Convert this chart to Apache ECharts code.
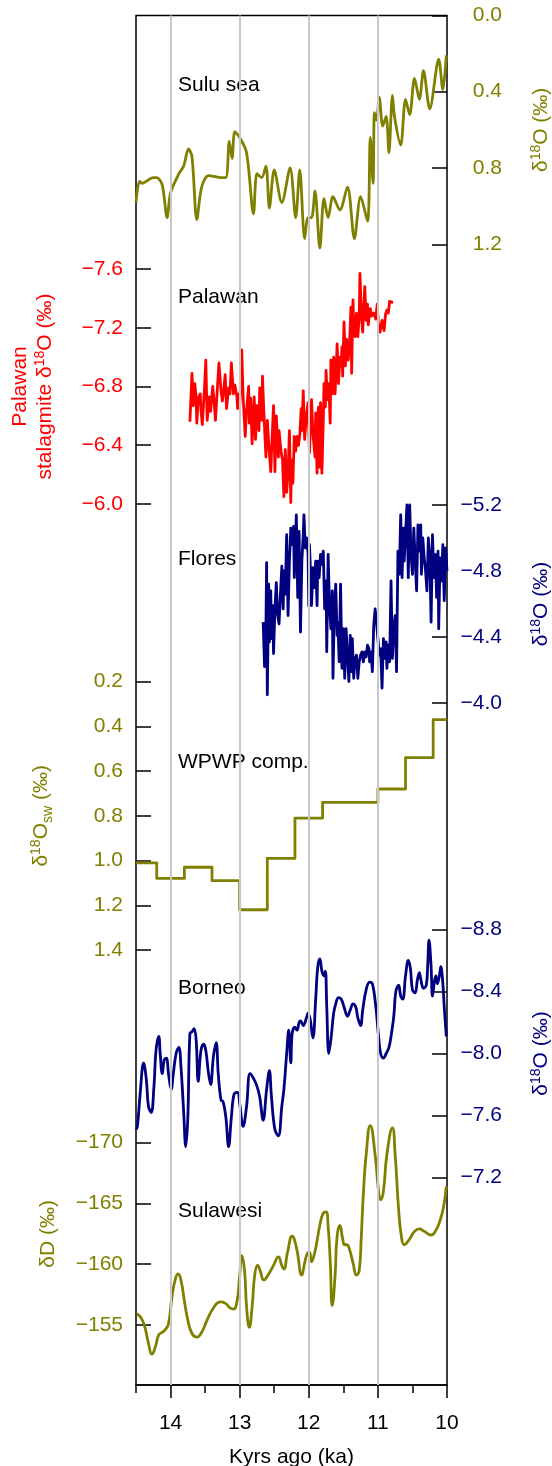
<!DOCTYPE html>
<html>
<head>
<meta charset="utf-8">
<script src="https://cdn.jsdelivr.net/npm/echarts@6.0.0/dist/echarts.min.js"></script>
<style>
  html, body { margin: 0; padding: 0; background: #fff; }
  #main { width: 552px; height: 1466px; }
</style>
</head>
<body>
<div id="main"></div>
<script>
const OLIVE = '#808000';
const RED = '#ff0000';
const NAVY = '#000080';
const FONT = '"Liberation Sans", Arial, Helvetica, sans-serif';

// x axis (kyr ago)
const ageMajor = [10, 11, 12, 13, 14];
const ageMinor = [10.5, 11.5, 12.5, 13.5, 14.5];
const gridAges = [11, 12, 13, 14];

const panelLabels = ['Sulu sea', 'Palawan', 'Flores', 'WPWP comp.', 'Borneo', 'Sulawesi'];

// y tick values per panel
const suluTicks = [0, 0.4, 0.8, 1.2];
const palawanTicks = [-7.6, -7.2, -6.8, -6.4, -6.0];
const floresTicks = [-5.2, -4.8, -4.4, -4.0];
const wpwpTicks = [0.2, 0.4, 0.6, 0.8, 1.0, 1.2, 1.4];
const borneoTicks = [-8.8, -8.4, -8.0, -7.6, -7.2];
const sulawesiTicks = [-170, -165, -160, -155];

// Sulu sea d18O
const suluAge = [14.50,14.45,14.41,14.25,14.20,14.12,14.05,14.00,13.88,13.81,13.74,13.69,13.62,13.55,13.45,13.28,13.20,13.15,13.11,13.07,13.00,12.90,12.80,12.75,12.68,12.62,12.57,12.50,12.39,12.27,12.19,12.13,12.06,12.01,11.96,11.91,11.84,11.78,11.72,11.65,11.55,11.44,11.34,11.25,11.15,11.11,11.07,11.05,11.02,10.98,10.93,10.88,10.84,10.79,10.76,10.67,10.60,10.54,10.47,10.40,10.34,10.25,10.12,10.06,10.01];
const suluD18O = [0.98,0.87,0.88,0.85,0.85,0.89,1.06,0.93,0.83,0.79,0.70,0.74,1.07,0.90,0.84,0.85,0.85,0.66,0.75,0.61,0.64,0.72,1.04,0.83,0.85,0.79,1.01,0.81,0.98,0.80,1.06,0.81,1.17,1.06,1.06,0.92,1.22,0.96,1.06,0.95,1.02,0.90,1.17,0.95,1.08,0.64,0.88,0.51,0.55,0.43,0.58,0.53,0.72,0.42,0.53,0.68,0.44,0.52,0.33,0.44,0.29,0.49,0.23,0.39,0.21];

// Palawan stalagmite d18O
const palawanAge = [13.72,13.69,13.67,13.65,13.63,13.62,13.60,13.57,13.56,13.54,13.51,13.49,13.47,13.44,13.42,13.39,13.37,13.35,13.32,13.30,13.27,13.25,13.23,13.21,13.19,13.16,13.14,13.12,13.09,13.07,13.04,13.03,13.01,13.00,12.98,12.97,12.95,12.92,12.90,12.87,12.86,12.84,12.82,12.79,12.77,12.75,12.72,12.71,12.68,12.67,12.65,12.62,12.60,12.58,12.55,12.53,12.51,12.49,12.47,12.44,12.43,12.40,12.38,12.36,12.34,12.32,12.30,12.28,12.26,12.25,12.23,12.21,12.19,12.17,12.15,12.13,12.11,12.10,12.08,12.06,12.03,
  12.01,11.99,11.96,11.94,11.91,11.90,11.88,11.86,11.84,11.83,11.81,11.79,11.78,11.76,11.75,11.73,11.71,11.69,11.68,11.66,11.64,11.62,11.60,11.59,11.57,11.55,11.53,11.52,11.51,11.49,11.47,11.45,11.43,11.41,11.39,11.38,11.36,11.35,11.33,11.31,11.29,11.27,11.26,11.24,11.22,11.19,11.17,11.15,11.14,11.11,11.09,11.06,11.03,11.01,10.99,10.97,10.94,10.91,10.89,10.87,10.85,10.83,10.81,10.78];
const palawanD18O = [-6.56,-6.89,-6.67,-6.82,-6.73,-6.55,-6.72,-6.75,-6.64,-6.54,-6.78,-6.98,-6.57,-6.73,-6.63,-6.80,-6.70,-6.57,-6.81,-6.96,-6.77,-6.70,-6.78,-6.88,-6.65,-6.79,-6.75,-6.96,-6.75,-6.81,-6.73,-6.65,-6.75,-6.66,-6.92,-7.05,-6.73,-6.46,-6.64,-6.80,-6.55,-6.72,-6.41,-6.73,-6.44,-6.67,-6.50,-6.79,-6.57,-6.87,-6.62,-6.32,-6.57,-6.41,-6.22,-6.46,-6.67,-6.22,-6.60,-6.32,-6.50,-6.35,-6.30,-6.05,-6.37,-6.08,-6.21,-6.50,-6.01,-6.30,-6.14,-6.46,-6.36,-6.46,-6.40,-6.47,-6.65,-6.50,-6.77,-6.44,-6.62,
  -6.69,-6.35,-6.71,-6.48,-6.32,-6.62,-6.21,-6.66,-6.25,-6.69,-6.21,-6.57,-6.82,-6.66,-6.91,-6.71,-6.82,-6.55,-6.98,-6.75,-7.00,-6.75,-6.96,-7.09,-6.82,-7.00,-6.94,-7.07,-6.87,-7.24,-6.94,-7.12,-6.98,-7.09,-7.34,-6.89,-7.39,-7.21,-7.14,-7.30,-7.14,-7.28,-7.57,-7.30,-7.17,-7.48,-7.25,-7.36,-7.22,-7.33,-7.28,-7.30,-7.26,-7.36,-7.21,-7.17,-7.25,-7.18,-7.29,-7.32,-7.30,-7.38,-7.39,-7.37];

// Flores d18O
const floresAge = [12.66,12.64,12.62,12.61,12.60,12.58,12.57,12.55,12.54,12.52,12.51,12.49,12.47,12.45,12.43,12.41,12.39,12.37,12.36,12.34,12.32,12.30,12.28,12.26,12.24,12.22,12.21,12.19,12.18,12.16,12.14,12.12,12.10,12.08,12.07,12.05,12.03,12.01,12.00,11.99,11.97,11.96,11.94,11.92,11.90,11.88,11.87,11.85,11.83,11.81,11.79,11.77,11.75,11.74,11.72,11.70,11.68,11.66,11.65,11.63,11.61,11.59,11.58,11.56,11.54,11.52,11.50,11.48,11.46,11.44,11.42,11.40,11.38,11.37,11.35,11.33,11.31,11.29,11.27,11.25,11.23,11.21,11.19,11.17,11.15,11.13,11.12,11.10,11.08,11.06,11.04,11.02,11.00,10.98,10.96,10.94,10.92,10.90,10.88,10.87,10.85,10.83,10.81,10.79,10.77,10.75,10.73,10.71,10.69,10.67,10.65,10.63,10.62,10.60,10.58,10.56,10.54,10.52,10.50,10.48,10.46,10.44,10.42,10.40,10.38,10.37,10.35,10.33,10.31,10.29,10.27,10.25,10.23,10.21,10.19,10.17,10.15,10.13,10.12,10.10,10.08,10.06,10.04,10.02,10.00];
const floresD18O = [-4.49,-4.22,-4.45,-4.85,-4.05,-4.72,-4.37,-4.68,-4.39,-4.59,-4.30,-4.57,-4.73,-4.53,-4.48,-4.66,-4.83,-4.57,-4.80,-4.66,-5.02,-4.53,-4.86,-5.06,-4.96,-5.07,-4.76,-5.02,-5.14,-4.64,-5.04,-4.43,-4.86,-5.02,-5.14,-4.94,-5.00,-4.90,-4.59,-4.96,-4.74,-4.59,-4.82,-4.70,-4.86,-4.59,-4.86,-4.76,-4.90,-4.84,-4.92,-4.57,-4.74,-4.31,-4.90,-4.59,-4.45,-4.68,-4.15,-4.57,-4.72,-4.41,-4.49,-4.25,-4.72,-4.21,-4.45,-4.15,-4.45,-4.29,-4.13,-4.41,-4.19,-4.39,-4.15,-4.27,-4.29,-4.15,-4.25,-4.29,-4.31,-4.25,-4.31,-4.28,-4.35,-4.33,-4.25,-4.31,-4.19,-4.47,-4.57,-4.49,-4.49,-4.29,-4.33,-4.09,-4.39,-4.27,-4.37,-4.21,-4.35,-4.25,-4.74,-4.27,-4.45,-4.53,-4.19,-4.92,-4.78,-5.14,-4.76,-5.06,-4.86,-5.02,-5.20,-4.76,-5.20,-4.90,-4.78,-5.06,-4.86,-4.68,-5.08,-4.92,-5.08,-4.78,-5.00,-4.88,-4.80,-4.68,-5.00,-4.90,-4.49,-5.02,-4.76,-4.90,-4.64,-4.92,-4.45,-4.88,-4.74,-4.96,-4.62,-4.94,-4.80];

// WPWP composite d18Osw (0.4 kyr bins, value holds from age to next age)
const wpwpAge = [14.5, 14.2, 13.8, 13.4, 13.0, 12.6, 12.2, 11.8, 11.0, 10.6, 10.2, 10.0];
const wpwpD18Osw = [1.01, 1.08, 1.03, 1.09, 1.22, 0.99, 0.81, 0.74, 0.68, 0.54, 0.37, 0.37];

// Borneo d18O
const borneoAge = [14.50,14.48,14.44,14.39,14.35,14.32,14.28,14.24,14.21,14.17,14.15,14.12,14.09,14.06,14.03,13.99,13.96,13.92,13.88,13.85,13.81,13.78,13.75,13.72,13.69,13.66,13.63,13.60,13.56,13.52,13.49,13.45,13.42,13.38,13.34,13.31,13.27,13.24,13.20,13.16,13.12,13.08,13.03,13.00,12.95,12.90,12.85,12.80,12.75,12.71,12.66,12.61,12.57,12.54,12.49,12.44,12.39,12.36,12.32,12.29,12.26,12.24,12.20,12.17,12.14,12.12,12.08,12.04,12.01,11.98,11.94,11.90,11.87,11.84,11.81,11.78,11.76,11.74,11.71,11.68,11.64,11.61,11.57,11.53,11.49,11.44,11.40,11.36,11.32,11.29,11.25,11.22,11.17,11.12,11.08,11.03,10.99,10.96,10.92,10.88,10.84,10.81,10.77,10.74,10.70,10.67,10.64,10.60,10.56,10.53,10.50,10.46,10.43,10.40,10.38,10.34,10.30,10.28,10.26,10.23,10.21,10.18,10.16,10.14,10.11,10.09,10.06,10.04,10.01];
const borneoD18O = [-7.51,-7.53,-7.74,-7.94,-7.83,-7.66,-7.62,-7.79,-8.02,-8.11,-8.00,-7.87,-7.96,-7.97,-7.87,-7.77,-7.87,-8.00,-8.04,-7.92,-7.62,-7.40,-7.59,-8.13,-8.14,-8.16,-8.09,-7.82,-8.02,-8.06,-8.02,-7.87,-7.80,-7.98,-8.07,-7.87,-7.70,-7.69,-7.59,-7.40,-7.59,-7.74,-7.75,-7.68,-7.53,-7.66,-7.87,-7.84,-7.79,-7.72,-7.57,-7.77,-7.89,-7.72,-7.51,-7.47,-7.66,-7.77,-8.00,-8.15,-7.94,-8.13,-8.17,-8.15,-8.20,-8.21,-8.18,-8.22,-8.26,-8.22,-8.10,-8.35,-8.56,-8.61,-8.53,-8.50,-8.53,-8.30,-8.00,-8.09,-8.26,-8.32,-8.36,-8.35,-8.30,-8.24,-8.28,-8.32,-8.30,-8.23,-8.18,-8.28,-8.41,-8.46,-8.45,-8.30,-8.11,-8.00,-7.97,-8.00,-8.04,-8.11,-8.24,-8.40,-8.44,-8.37,-8.35,-8.50,-8.60,-8.55,-8.41,-8.39,-8.47,-8.52,-8.48,-8.42,-8.44,-8.56,-8.73,-8.56,-8.37,-8.47,-8.50,-8.45,-8.50,-8.56,-8.45,-8.30,-8.11];

// Sulawesi dD
const sulawesiAge = [14.49,14.44,14.38,14.32,14.27,14.22,14.17,14.12,14.08,14.03,13.98,13.93,13.89,13.85,13.80,13.75,13.69,13.62,13.55,13.48,13.38,13.28,13.21,13.14,13.09,13.04,13.00,12.97,12.93,12.90,12.86,12.82,12.78,12.74,12.70,12.65,12.59,12.51,12.44,12.39,12.36,12.31,12.24,12.18,12.10,12.06,12.02,11.99,11.96,11.93,11.89,11.84,11.79,11.75,11.72,11.69,11.66,11.62,11.59,11.55,11.51,11.48,11.45,11.41,11.36,11.31,11.27,11.24,11.21,11.17,11.11,11.04,10.99,10.96,10.92,10.87,10.79,10.75,10.70,10.66,10.62,10.55,10.47,10.40,10.33,10.23,10.16,10.10,10.05,10.01];
const sulawesiDD = [-155.9,-155.7,-155.0,-153.5,-152.6,-153.2,-154.2,-154.4,-154.6,-155.1,-157.3,-158.8,-159.2,-158.7,-157.0,-155.4,-154.3,-154.0,-154.4,-155.3,-156.4,-156.9,-156.8,-156.4,-156.3,-156.9,-159.0,-160.7,-159.5,-156.5,-154.8,-156.5,-159.2,-159.9,-159.4,-158.7,-159.1,-159.9,-160.6,-159.9,-159.6,-160.9,-162.3,-161.4,-159.1,-160.1,-160.9,-161.0,-160.2,-160.6,-161.6,-163.2,-164.2,-164.3,-163.1,-160.3,-156.6,-159.0,-162.3,-163.2,-162.1,-161.6,-161.6,-161.2,-160.1,-159.1,-159.5,-162.3,-165.8,-169.0,-171.4,-169.0,-166.0,-165.3,-166.0,-169.0,-171.2,-169.0,-164.5,-162.3,-161.6,-162.0,-162.7,-162.9,-162.7,-162.4,-162.8,-163.6,-164.7,-166.4];

const pairs = (xs, ys) => xs.map((x, i) => [x, ys[i]]);
const minus = s => s.replace('-', '\u2212');

// panel layout in px (frame: left 136, right 447)
const LEFT = 136, WIDTH = 311, FRAME_TOP = 15.4, FRAME_BOTTOM = 1385;
const panels = [
  {top: 15.4, height: 228.9, side: 'right', color: OLIVE, min: 0, max: 1.2, ticks: suluTicks, digits: 1,
   name: 'δ{s|18}O (‰)', gap: 82, labelY: 85,
   data: pairs(suluAge, suluD18O), smooth: 0.3},
  {top: 269, height: 235, side: 'left', color: RED, min: -7.6, max: -6.0, ticks: palawanTicks, digits: 1,
   name: 'Palawan\nstalagmite δ{s|18}O (‰)', gap: 78, labelY: 297,
   data: pairs(palawanAge, palawanD18O), smooth: false},
  {top: 505, height: 198, side: 'right', color: NAVY, min: -5.2, max: -4.0, ticks: floresTicks, digits: 1,
   name: 'δ{s|18}O (‰)', gap: 82, labelY: 559,
   data: pairs(floresAge, floresD18O), smooth: false},
  {top: 681.7, height: 268.3, side: 'left', color: OLIVE, min: 0.2, max: 1.4, ticks: wpwpTicks, digits: 1,
   name: 'δ{s|18}O{b|sw} (‰)', gap: 82, labelY: 762,
   data: pairs(wpwpAge, wpwpD18Osw), lineStep: 'end'},
  {top: 929.3, height: 248.4, side: 'right', color: NAVY, min: -8.8, max: -7.2, ticks: borneoTicks, digits: 1,
   name: 'δ{s|18}O (‰)', gap: 82, labelY: 988,
   data: pairs(borneoAge, borneoD18O), smooth: 0.4},
  {top: 1142.6, height: 182.4, side: 'left', color: OLIVE, min: -170, max: -155, ticks: sulawesiTicks, digits: 0,
   name: 'δD (‰)', gap: 75, labelY: 1211,
   data: pairs(sulawesiAge, sulawesiDD), smooth: 0.5}
];

const grids = [{left: LEFT, width: WIDTH, top: FRAME_TOP, height: FRAME_BOTTOM - FRAME_TOP,
  containLabel: false, outerBoundsMode: 'none',
  show: true, borderColor: '#000', borderWidth: 1.5, backgroundColor: 'transparent'}];
const xAxes = [
  {gridIndex: 0, type: 'value', position: 'bottom', inverse: true, min: 10, max: 14.5,
   name: 'Kyrs ago (ka)', nameLocation: 'middle', nameGap: 62,
   nameTextStyle: {fontSize: 21, color: '#000', fontFamily: FONT},
   axisLine: {lineStyle: {color: '#000', width: 1.5}},
   axisTick: {inside: false, length: 13, customValues: ageMajor, lineStyle: {color: '#000', width: 1.5}},
   axisLabel: {fontSize: 21, color: '#000', margin: 28, fontFamily: FONT, customValues: ageMajor},
   splitLine: {show: false}},
  {gridIndex: 0, type: 'value', position: 'bottom', inverse: true, min: 10, max: 14.5,
   axisLine: {show: false},
   axisTick: {inside: false, length: 8, customValues: ageMinor, lineStyle: {color: '#000', width: 1.5}},
   axisLabel: {show: false}, splitLine: {show: false}}
];
const yAxes = [{gridIndex: 0, show: false, min: 0, max: 1}];
const series = [{
  type: 'line', xAxisIndex: 0, yAxisIndex: 0, data: [], z: 1, silent: true,
  markLine: {silent: true, symbol: 'none', label: {show: false}, animation: false,
    lineStyle: {color: '#c8c8c8', width: 2, type: 'solid'},
    data: gridAges.map(a => ({xAxis: a}))}
}];

panels.forEach((p, i) => {
  grids.push({left: LEFT, width: WIDTH, top: p.top, height: p.height,
    containLabel: false, outerBoundsMode: 'none'});
  xAxes.push({gridIndex: i + 1, type: 'value', inverse: true, min: 10, max: 14.5, show: false});
  yAxes.push({
    gridIndex: i + 1, type: 'value', position: p.side, inverse: true,
    min: p.min, max: p.max,
    name: p.name, nameLocation: 'middle', nameGap: p.gap, nameRotate: 90, nameMoveOverlap: false,
    nameTextStyle: {fontSize: 21, color: p.color, fontFamily: FONT, align: 'center', lineHeight: 25,
      rich: {
        s: {fontSize: 14, color: p.color, fontFamily: FONT, padding: [0, 0, 10, 0]},
        b: {fontSize: 14, color: p.color, fontFamily: FONT, padding: [14, 0, 0, 0]}
      }},
    axisLine: {show: false},
    axisTick: {show: true, inside: true, length: 15, customValues: p.ticks,
      lineStyle: {color: '#000', width: 1.5}},
    axisLabel: {fontSize: 21, color: p.color, fontFamily: FONT, customValues: p.ticks,
      margin: p.side === 'left' ? 13 : 55, align: 'right', hideOverlap: false,
      formatter: v => minus(Number(v).toFixed(p.digits))},
    splitLine: {show: false}
  });
  series.push({
    type: 'line', xAxisIndex: i + 2, yAxisIndex: i + 1, data: p.data,
    showSymbol: false, symbol: 'none', clip: false, z: 3,
    smooth: p.smooth || false, step: p.lineStep || false,
    lineStyle: {color: p.color, width: 2.8, join: 'round'}
  });
});

const chart = echarts.init(document.getElementById('main'), null, {renderer: 'canvas'});
chart.setOption({
  animation: false,
  backgroundColor: '#fff',
  grid: grids,
  xAxis: xAxes,
  yAxis: yAxes,
  series: series,
  graphic: panels.map((p, i) => ({
    type: 'text', x: 178, y: p.labelY, silent: true,
    style: {text: panelLabels[i], fontSize: 21, fontFamily: FONT, fill: '#000', verticalAlign: 'middle'}
  }))
});
</script>
</body>
</html>
